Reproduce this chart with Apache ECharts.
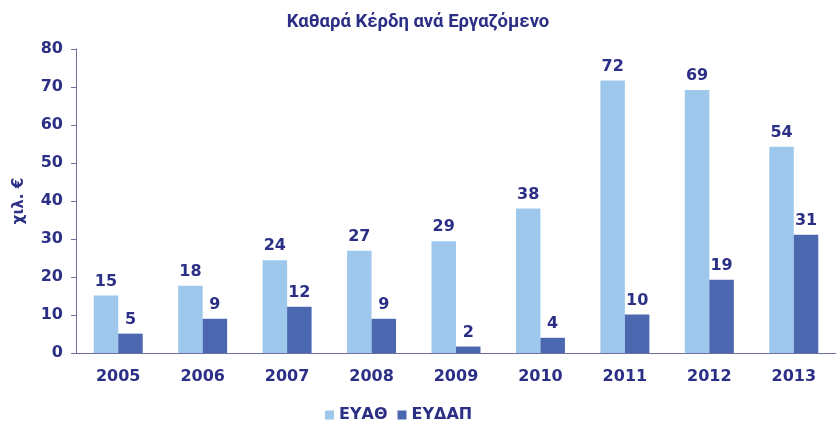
<!DOCTYPE html>
<html>
<head>
<meta charset="utf-8">
<script src="https://cdn.jsdelivr.net/npm/echarts@6/dist/echarts.min.js"></script>
<style>
  html, body { margin: 0; padding: 0; background: #fff; }
  #chart { width: 836px; height: 424px; }
</style>
</head>
<body>
<div id="chart"></div>
<script>
// data
const years = ['2005', '2006', '2007', '2008', '2009', '2010', '2011', '2012', '2013']
const eyath = [15.1, 17.7, 24.4, 26.9, 29.4, 38.0, 71.7, 69.2, 54.3]
const eydap = [5.1, 9.0, 12.2, 9.0, 1.7, 4.0, 10.1, 19.3, 31.1]

const navy = '#2B2F85'
const axisColor = '#6F70A0'
const font = 'DejaVu Sans'

const chart = echarts.init(document.getElementById('chart'))

const labelStyle = {
  show: true,
  position: 'top',
  distance: 6,
  color: navy,
  fontFamily: font,
  fontWeight: 'bold',
  fontSize: 16,
  formatter: p => Math.round(p.value)
}

chart.setOption({
  animation: false,
  title: {
    text: 'Καθαρά Κέρδη ανά Εργαζόμενο',
    left: 'center',
    top: 8,
    textStyle: {
      color: navy,
      fontFamily: 'Roboto',
      fontWeight: 'bold',
      fontSize: 18.5
    }
  },
  legend: {
    top: 407,
    left: 325,
    padding: 0,
    itemWidth: 9,
    itemHeight: 9,
    itemGap: 10,
    icon: 'rect',
    textStyle: {
      color: navy,
      fontFamily: font,
      fontWeight: 'bold',
      fontSize: 16,
      padding: [0, 0, 0, 0]
    },
    data: ['ΕΥΑΘ', 'ΕΥΔΑΠ']
  },
  grid: {
    left: 76,
    right: -5,
    top: 49,
    bottom: 71
  },
  xAxis: {
    type: 'category',
    data: years,
    axisLine: { lineStyle: { color: axisColor, width: 1 } },
    axisTick: { length: 5, lineStyle: { color: axisColor } },
    axisLabel: {
      color: navy,
      fontFamily: font,
      fontWeight: 'bold',
      fontSize: 16,
      margin: 16
    }
  },
  yAxis: {
    type: 'value',
    min: 0,
    max: 80,
    interval: 10,
    name: 'χιλ. €',
    nameLocation: 'middle',
    nameGap: 49,
    nameRotate: 90,
    nameMoveOverlap: false,
    nameTextStyle: {
      color: navy,
      fontFamily: font,
      fontWeight: 'bold',
      fontSize: 15
    },
    splitLine: { show: false },
    axisLine: { show: true, lineStyle: { color: axisColor, width: 1 } },
    axisTick: { show: true, length: 5, lineStyle: { color: axisColor } },
    axisLabel: {
      color: navy,
      fontFamily: font,
      fontWeight: 'bold',
      fontSize: 16,
      margin: 13
    }
  },
  series: [
    {
      name: 'ΕΥΑΘ',
      type: 'bar',
      data: eyath,
      barGap: '0%',
      barCategoryGap: '42%',
      itemStyle: { color: '#9DC8EB' },
      label: labelStyle
    },
    {
      name: 'ΕΥΔΑΠ',
      type: 'bar',
      data: eydap,
      itemStyle: { color: '#4A67B0' },
      label: labelStyle
    }
  ]
})
</script>
</body>
</html>
